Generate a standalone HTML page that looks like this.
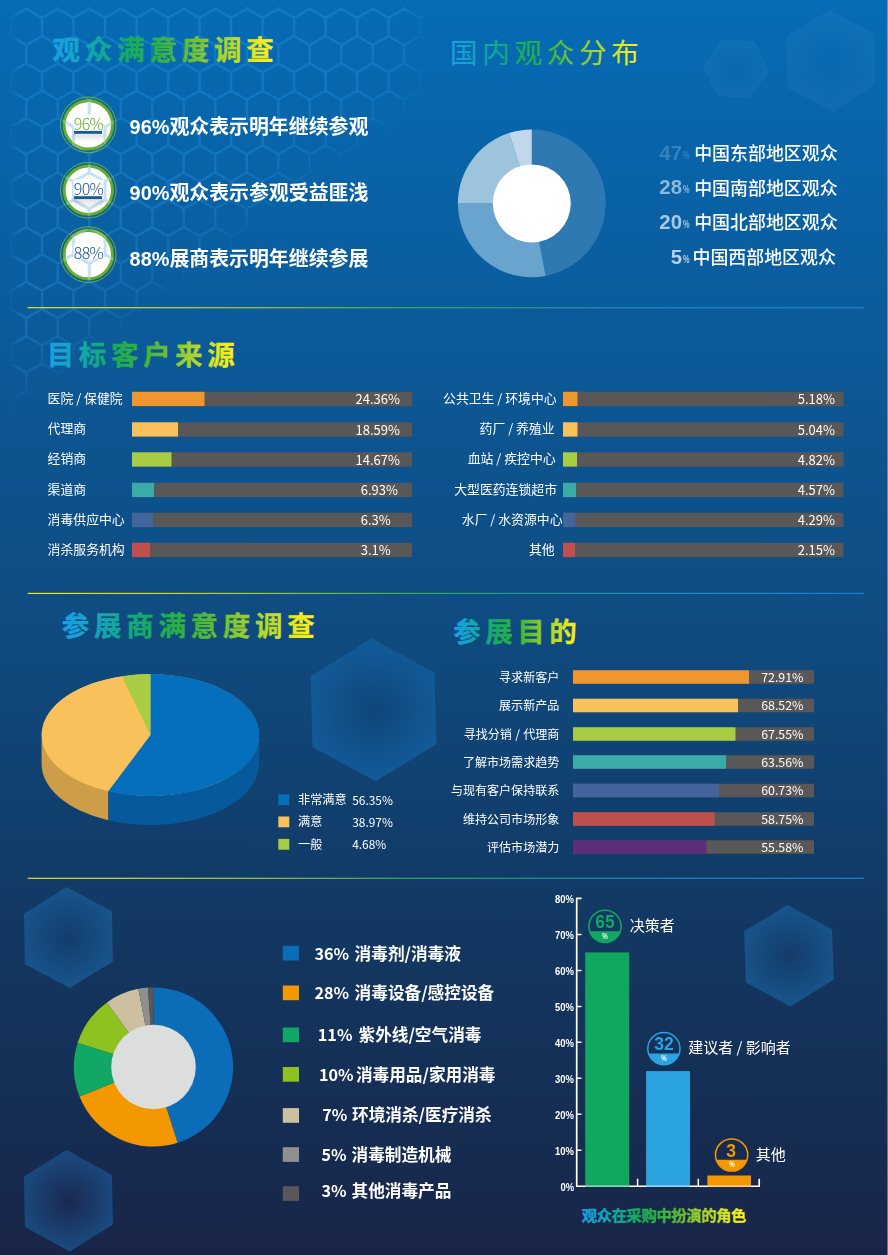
<!DOCTYPE html>
<html lang="zh-CN"><head><meta charset="utf-8"><title>展会数据统计</title><style>
html,body{margin:0;padding:0}
body{width:888px;height:1255px;position:relative;overflow:hidden;
 background:linear-gradient(180deg,#056cb6 0%,#0b5c9c 24%,#0f4b80 50%,#123862 74%,#192548 100%);
 font-family:"Liberation Sans","Noto Sans CJK SC",sans-serif;color:#fff}
.a{position:absolute;white-space:nowrap;margin:0;padding:0}
#tx{position:absolute;left:0;top:0;width:888px;height:1255px;will-change:transform}
svg{position:absolute;left:0;top:0}
.cj{font-family:"Noto Sans CJK SC","Liberation Sans",sans-serif}
</style></head><body>
<svg width="888" height="1255" viewBox="0 0 888 1255">
<defs>
<linearGradient id="dv" x1="0" x2="1" y1="0" y2="0"><stop offset="0" stop-color="#f0e81a"/><stop offset="0.12" stop-color="#e0e022"/><stop offset="0.27" stop-color="#a8cc34"/><stop offset="0.45" stop-color="#3cb050"/><stop offset="0.60" stop-color="#1a9e8c"/><stop offset="0.78" stop-color="#1490cc"/><stop offset="1" stop-color="#1488d8"/></linearGradient>
<linearGradient id="hm" gradientUnits="userSpaceOnUse" x1="0" y1="0" x2="206" y2="272"><stop offset="0" stop-color="#fff" stop-opacity="1"/><stop offset="0.8" stop-color="#fff" stop-opacity="1"/><stop offset="0.93" stop-color="#fff" stop-opacity="0.6"/><stop offset="1.05" stop-color="#fff" stop-opacity="0"/></linearGradient>
<linearGradient id="hl" gradientUnits="userSpaceOnUse" x1="8" y1="0" x2="20" y2="0"><stop offset="0" stop-color="#000" stop-opacity="1"/><stop offset="1" stop-color="#000" stop-opacity="0"/></linearGradient>
<linearGradient id="hr" gradientUnits="userSpaceOnUse" x1="400" y1="0" x2="432" y2="0"><stop offset="0" stop-color="#000" stop-opacity="0"/><stop offset="1" stop-color="#000" stop-opacity="1"/></linearGradient>
<mask id="hmask" maskUnits="userSpaceOnUse" x="0" y="0" width="620" height="560"><rect x="0" y="0" width="620" height="560" fill="url(#hm)"/><rect x="0" y="0" width="22" height="560" fill="url(#hl)"/><rect x="400" y="0" width="220" height="560" fill="url(#hr)"/><rect x="0" y="0" width="620" height="7" fill="#000"/></mask>
</defs>
<defs><linearGradient id="hg" x1="0" x2="1" y1="0" y2="0"><stop offset="0" stop-color="#1a9fe8"/><stop offset="0.10" stop-color="#15a3cc"/><stop offset="0.22" stop-color="#12a898"/><stop offset="0.33" stop-color="#15ab62"/><stop offset="0.45" stop-color="#2bb044"/><stop offset="0.57" stop-color="#55ba36"/><stop offset="0.70" stop-color="#94cc2e"/><stop offset="0.82" stop-color="#c4dc28"/><stop offset="0.92" stop-color="#eeea1e"/><stop offset="1" stop-color="#fff21a"/></linearGradient></defs>
<defs><path id="hc" d="M-5.2 -9.5L10.5 -18.6L26.3 -9.5L26.3 8.7M26.3 -9.5L42.0 -18.6L57.8 -9.5L57.8 8.7M57.8 -9.5L73.5 -18.6L89.3 -9.5L89.3 8.7M89.3 -9.5L105.0 -18.6L120.8 -9.5L120.8 8.7M120.8 -9.5L136.6 -18.6L152.3 -9.5L152.3 8.7M152.3 -9.5L168.1 -18.6L183.8 -9.5L183.8 8.7M183.8 -9.5L199.6 -18.6L215.3 -9.5L215.3 8.7M215.3 -9.5L231.1 -18.6L246.8 -9.5L246.8 8.7M246.8 -9.5L262.6 -18.6L278.3 -9.5L278.3 8.7M278.3 -9.5L294.1 -18.6L309.8 -9.5L309.8 8.7M309.8 -9.5L325.6 -18.6L341.3 -9.5L341.3 8.7M341.3 -9.5L357.1 -18.6L372.8 -9.5L372.8 8.7M372.8 -9.5L388.6 -18.6L404.3 -9.5L404.3 8.7M404.3 -9.5L420.1 -18.6L435.8 -9.5L435.8 8.7M435.8 -9.5L451.6 -18.6L467.3 -9.5L467.3 8.7M467.3 -9.5L483.1 -18.6L498.8 -9.5L498.8 8.7M498.8 -9.5L514.5 -18.6L530.3 -9.5L530.3 8.7M530.3 -9.5L546.0 -18.6L561.8 -9.5L561.8 8.7M561.8 -9.5L577.5 -18.6L593.3 -9.5L593.3 8.7M593.3 -9.5L609.0 -18.6L624.8 -9.5L624.8 8.7M624.8 -9.5L640.5 -18.6L656.3 -9.5L656.3 8.7M-20.9 17.8L-5.2 8.7L10.6 17.8L10.6 36.0M10.6 17.8L26.3 8.7L42.0 17.8L42.0 36.0M42.0 17.8L57.8 8.7L73.5 17.8L73.5 36.0M73.5 17.8L89.3 8.7L105.0 17.8L105.0 36.0M105.0 17.8L120.8 8.7L136.6 17.8L136.6 36.0M136.6 17.8L152.3 8.7L168.1 17.8L168.1 36.0M168.1 17.8L183.8 8.7L199.6 17.8L199.6 36.0M199.6 17.8L215.3 8.7L231.1 17.8L231.1 36.0M231.1 17.8L246.8 8.7L262.6 17.8L262.6 36.0M262.6 17.8L278.3 8.7L294.1 17.8L294.1 36.0M294.1 17.8L309.8 8.7L325.6 17.8L325.6 36.0M325.6 17.8L341.3 8.7L357.1 17.8L357.1 36.0M357.1 17.8L372.8 8.7L388.6 17.8L388.6 36.0M388.6 17.8L404.3 8.7L420.1 17.8L420.1 36.0M420.1 17.8L435.8 8.7L451.6 17.8L451.6 36.0M451.6 17.8L467.3 8.7L483.1 17.8L483.1 36.0M483.1 17.8L498.8 8.7L514.5 17.8L514.5 36.0M514.5 17.8L530.3 8.7L546.0 17.8L546.0 36.0M546.0 17.8L561.8 8.7L577.5 17.8L577.5 36.0M577.5 17.8L593.3 8.7L609.0 17.8L609.0 36.0M609.0 17.8L624.8 8.7L640.5 17.8L640.5 36.0M-5.2 45.1L10.5 36.0L26.3 45.1L26.3 63.3M26.3 45.1L42.0 36.0L57.8 45.1L57.8 63.3M57.8 45.1L73.5 36.0L89.3 45.1L89.3 63.3M89.3 45.1L105.0 36.0L120.8 45.1L120.8 63.3M120.8 45.1L136.6 36.0L152.3 45.1L152.3 63.3M152.3 45.1L168.1 36.0L183.8 45.1L183.8 63.3M183.8 45.1L199.6 36.0L215.3 45.1L215.3 63.3M215.3 45.1L231.1 36.0L246.8 45.1L246.8 63.3M246.8 45.1L262.6 36.0L278.3 45.1L278.3 63.3M278.3 45.1L294.1 36.0L309.8 45.1L309.8 63.3M309.8 45.1L325.6 36.0L341.3 45.1L341.3 63.3M341.3 45.1L357.1 36.0L372.8 45.1L372.8 63.3M372.8 45.1L388.6 36.0L404.3 45.1L404.3 63.3M404.3 45.1L420.1 36.0L435.8 45.1L435.8 63.3M435.8 45.1L451.6 36.0L467.3 45.1L467.3 63.3M467.3 45.1L483.1 36.0L498.8 45.1L498.8 63.3M498.8 45.1L514.5 36.0L530.3 45.1L530.3 63.3M530.3 45.1L546.0 36.0L561.8 45.1L561.8 63.3M561.8 45.1L577.5 36.0L593.3 45.1L593.3 63.3M593.3 45.1L609.0 36.0L624.8 45.1L624.8 63.3M624.8 45.1L640.5 36.0L656.3 45.1L656.3 63.3M-20.9 72.4L-5.2 63.3L10.6 72.4L10.6 90.6M10.6 72.4L26.3 63.3L42.0 72.4L42.0 90.6M42.0 72.4L57.8 63.3L73.5 72.4L73.5 90.6M73.5 72.4L89.3 63.3L105.0 72.4L105.0 90.6M105.0 72.4L120.8 63.3L136.6 72.4L136.6 90.6M136.6 72.4L152.3 63.3L168.1 72.4L168.1 90.6M168.1 72.4L183.8 63.3L199.6 72.4L199.6 90.6M199.6 72.4L215.3 63.3L231.1 72.4L231.1 90.6M231.1 72.4L246.8 63.3L262.6 72.4L262.6 90.6M262.6 72.4L278.3 63.3L294.1 72.4L294.1 90.6M294.1 72.4L309.8 63.3L325.6 72.4L325.6 90.6M325.6 72.4L341.3 63.3L357.1 72.4L357.1 90.6M357.1 72.4L372.8 63.3L388.6 72.4L388.6 90.6M388.6 72.4L404.3 63.3L420.1 72.4L420.1 90.6M420.1 72.4L435.8 63.3L451.6 72.4L451.6 90.6M451.6 72.4L467.3 63.3L483.1 72.4L483.1 90.6M483.1 72.4L498.8 63.3L514.5 72.4L514.5 90.6M514.5 72.4L530.3 63.3L546.0 72.4L546.0 90.6M546.0 72.4L561.8 63.3L577.5 72.4L577.5 90.6M577.5 72.4L593.3 63.3L609.0 72.4L609.0 90.6M609.0 72.4L624.8 63.3L640.5 72.4L640.5 90.6M-5.2 99.7L10.5 90.6L26.3 99.7L26.3 117.9M26.3 99.7L42.0 90.6L57.8 99.7L57.8 117.9M57.8 99.7L73.5 90.6L89.3 99.7L89.3 117.9M89.3 99.7L105.0 90.6L120.8 99.7L120.8 117.9M120.8 99.7L136.6 90.6L152.3 99.7L152.3 117.9M152.3 99.7L168.1 90.6L183.8 99.7L183.8 117.9M183.8 99.7L199.6 90.6L215.3 99.7L215.3 117.9M215.3 99.7L231.1 90.6L246.8 99.7L246.8 117.9M246.8 99.7L262.6 90.6L278.3 99.7L278.3 117.9M278.3 99.7L294.1 90.6L309.8 99.7L309.8 117.9M309.8 99.7L325.6 90.6L341.3 99.7L341.3 117.9M341.3 99.7L357.1 90.6L372.8 99.7L372.8 117.9M372.8 99.7L388.6 90.6L404.3 99.7L404.3 117.9M404.3 99.7L420.1 90.6L435.8 99.7L435.8 117.9M435.8 99.7L451.6 90.6L467.3 99.7L467.3 117.9M467.3 99.7L483.1 90.6L498.8 99.7L498.8 117.9M498.8 99.7L514.5 90.6L530.3 99.7L530.3 117.9M530.3 99.7L546.0 90.6L561.8 99.7L561.8 117.9M561.8 99.7L577.5 90.6L593.3 99.7L593.3 117.9M593.3 99.7L609.0 90.6L624.8 99.7L624.8 117.9M624.8 99.7L640.5 90.6L656.3 99.7L656.3 117.9M-20.9 127.0L-5.2 117.9L10.6 127.0L10.6 145.2M10.6 127.0L26.3 117.9L42.0 127.0L42.0 145.2M42.0 127.0L57.8 117.9L73.5 127.0L73.5 145.2M73.5 127.0L89.3 117.9L105.0 127.0L105.0 145.2M105.0 127.0L120.8 117.9L136.6 127.0L136.6 145.2M136.6 127.0L152.3 117.9L168.1 127.0L168.1 145.2M168.1 127.0L183.8 117.9L199.6 127.0L199.6 145.2M199.6 127.0L215.3 117.9L231.1 127.0L231.1 145.2M231.1 127.0L246.8 117.9L262.6 127.0L262.6 145.2M262.6 127.0L278.3 117.9L294.1 127.0L294.1 145.2M294.1 127.0L309.8 117.9L325.6 127.0L325.6 145.2M325.6 127.0L341.3 117.9L357.1 127.0L357.1 145.2M357.1 127.0L372.8 117.9L388.6 127.0L388.6 145.2M388.6 127.0L404.3 117.9L420.1 127.0L420.1 145.2M420.1 127.0L435.8 117.9L451.6 127.0L451.6 145.2M451.6 127.0L467.3 117.9L483.1 127.0L483.1 145.2M483.1 127.0L498.8 117.9L514.5 127.0L514.5 145.2M514.5 127.0L530.3 117.9L546.0 127.0L546.0 145.2M546.0 127.0L561.8 117.9L577.5 127.0L577.5 145.2M577.5 127.0L593.3 117.9L609.0 127.0L609.0 145.2M609.0 127.0L624.8 117.9L640.5 127.0L640.5 145.2M-5.2 154.3L10.5 145.2L26.3 154.3L26.3 172.5M26.3 154.3L42.0 145.2L57.8 154.3L57.8 172.5M57.8 154.3L73.5 145.2L89.3 154.3L89.3 172.5M89.3 154.3L105.0 145.2L120.8 154.3L120.8 172.5M120.8 154.3L136.6 145.2L152.3 154.3L152.3 172.5M152.3 154.3L168.1 145.2L183.8 154.3L183.8 172.5M183.8 154.3L199.6 145.2L215.3 154.3L215.3 172.5M215.3 154.3L231.1 145.2L246.8 154.3L246.8 172.5M246.8 154.3L262.6 145.2L278.3 154.3L278.3 172.5M278.3 154.3L294.1 145.2L309.8 154.3L309.8 172.5M309.8 154.3L325.6 145.2L341.3 154.3L341.3 172.5M341.3 154.3L357.1 145.2L372.8 154.3L372.8 172.5M372.8 154.3L388.6 145.2L404.3 154.3L404.3 172.5M404.3 154.3L420.1 145.2L435.8 154.3L435.8 172.5M435.8 154.3L451.6 145.2L467.3 154.3L467.3 172.5M467.3 154.3L483.1 145.2L498.8 154.3L498.8 172.5M498.8 154.3L514.5 145.2L530.3 154.3L530.3 172.5M530.3 154.3L546.0 145.2L561.8 154.3L561.8 172.5M561.8 154.3L577.5 145.2L593.3 154.3L593.3 172.5M593.3 154.3L609.0 145.2L624.8 154.3L624.8 172.5M624.8 154.3L640.5 145.2L656.3 154.3L656.3 172.5M-20.9 181.6L-5.2 172.5L10.6 181.6L10.6 199.8M10.6 181.6L26.3 172.5L42.0 181.6L42.0 199.8M42.0 181.6L57.8 172.5L73.5 181.6L73.5 199.8M73.5 181.6L89.3 172.5L105.0 181.6L105.0 199.8M105.0 181.6L120.8 172.5L136.6 181.6L136.6 199.8M136.6 181.6L152.3 172.5L168.1 181.6L168.1 199.8M168.1 181.6L183.8 172.5L199.6 181.6L199.6 199.8M199.6 181.6L215.3 172.5L231.1 181.6L231.1 199.8M231.1 181.6L246.8 172.5L262.6 181.6L262.6 199.8M262.6 181.6L278.3 172.5L294.1 181.6L294.1 199.8M294.1 181.6L309.8 172.5L325.6 181.6L325.6 199.8M325.6 181.6L341.3 172.5L357.1 181.6L357.1 199.8M357.1 181.6L372.8 172.5L388.6 181.6L388.6 199.8M388.6 181.6L404.3 172.5L420.1 181.6L420.1 199.8M420.1 181.6L435.8 172.5L451.6 181.6L451.6 199.8M451.6 181.6L467.3 172.5L483.1 181.6L483.1 199.8M483.1 181.6L498.8 172.5L514.5 181.6L514.5 199.8M514.5 181.6L530.3 172.5L546.0 181.6L546.0 199.8M546.0 181.6L561.8 172.5L577.5 181.6L577.5 199.8M577.5 181.6L593.3 172.5L609.0 181.6L609.0 199.8M609.0 181.6L624.8 172.5L640.5 181.6L640.5 199.8M-5.2 208.9L10.5 199.8L26.3 208.9L26.3 227.1M26.3 208.9L42.0 199.8L57.8 208.9L57.8 227.1M57.8 208.9L73.5 199.8L89.3 208.9L89.3 227.1M89.3 208.9L105.0 199.8L120.8 208.9L120.8 227.1M120.8 208.9L136.6 199.8L152.3 208.9L152.3 227.1M152.3 208.9L168.1 199.8L183.8 208.9L183.8 227.1M183.8 208.9L199.6 199.8L215.3 208.9L215.3 227.1M215.3 208.9L231.1 199.8L246.8 208.9L246.8 227.1M246.8 208.9L262.6 199.8L278.3 208.9L278.3 227.1M278.3 208.9L294.1 199.8L309.8 208.9L309.8 227.1M309.8 208.9L325.6 199.8L341.3 208.9L341.3 227.1M341.3 208.9L357.1 199.8L372.8 208.9L372.8 227.1M372.8 208.9L388.6 199.8L404.3 208.9L404.3 227.1M404.3 208.9L420.1 199.8L435.8 208.9L435.8 227.1M435.8 208.9L451.6 199.8L467.3 208.9L467.3 227.1M467.3 208.9L483.1 199.8L498.8 208.9L498.8 227.1M498.8 208.9L514.5 199.8L530.3 208.9L530.3 227.1M530.3 208.9L546.0 199.8L561.8 208.9L561.8 227.1M561.8 208.9L577.5 199.8L593.3 208.9L593.3 227.1M593.3 208.9L609.0 199.8L624.8 208.9L624.8 227.1M624.8 208.9L640.5 199.8L656.3 208.9L656.3 227.1M-20.9 236.2L-5.2 227.1L10.6 236.2L10.6 254.4M10.6 236.2L26.3 227.1L42.0 236.2L42.0 254.4M42.0 236.2L57.8 227.1L73.5 236.2L73.5 254.4M73.5 236.2L89.3 227.1L105.0 236.2L105.0 254.4M105.0 236.2L120.8 227.1L136.6 236.2L136.6 254.4M136.6 236.2L152.3 227.1L168.1 236.2L168.1 254.4M168.1 236.2L183.8 227.1L199.6 236.2L199.6 254.4M199.6 236.2L215.3 227.1L231.1 236.2L231.1 254.4M231.1 236.2L246.8 227.1L262.6 236.2L262.6 254.4M262.6 236.2L278.3 227.1L294.1 236.2L294.1 254.4M294.1 236.2L309.8 227.1L325.6 236.2L325.6 254.4M325.6 236.2L341.3 227.1L357.1 236.2L357.1 254.4M357.1 236.2L372.8 227.1L388.6 236.2L388.6 254.4M388.6 236.2L404.3 227.1L420.1 236.2L420.1 254.4M420.1 236.2L435.8 227.1L451.6 236.2L451.6 254.4M451.6 236.2L467.3 227.1L483.1 236.2L483.1 254.4M483.1 236.2L498.8 227.1L514.5 236.2L514.5 254.4M514.5 236.2L530.3 227.1L546.0 236.2L546.0 254.4M546.0 236.2L561.8 227.1L577.5 236.2L577.5 254.4M577.5 236.2L593.3 227.1L609.0 236.2L609.0 254.4M609.0 236.2L624.8 227.1L640.5 236.2L640.5 254.4M-5.2 263.5L10.5 254.4L26.3 263.5L26.3 281.7M26.3 263.5L42.0 254.4L57.8 263.5L57.8 281.7M57.8 263.5L73.5 254.4L89.3 263.5L89.3 281.7M89.3 263.5L105.0 254.4L120.8 263.5L120.8 281.7M120.8 263.5L136.6 254.4L152.3 263.5L152.3 281.7M152.3 263.5L168.1 254.4L183.8 263.5L183.8 281.7M183.8 263.5L199.6 254.4L215.3 263.5L215.3 281.7M215.3 263.5L231.1 254.4L246.8 263.5L246.8 281.7M246.8 263.5L262.6 254.4L278.3 263.5L278.3 281.7M278.3 263.5L294.1 254.4L309.8 263.5L309.8 281.7M309.8 263.5L325.6 254.4L341.3 263.5L341.3 281.7M341.3 263.5L357.1 254.4L372.8 263.5L372.8 281.7M372.8 263.5L388.6 254.4L404.3 263.5L404.3 281.7M404.3 263.5L420.1 254.4L435.8 263.5L435.8 281.7M435.8 263.5L451.6 254.4L467.3 263.5L467.3 281.7M467.3 263.5L483.1 254.4L498.8 263.5L498.8 281.7M498.8 263.5L514.5 254.4L530.3 263.5L530.3 281.7M530.3 263.5L546.0 254.4L561.8 263.5L561.8 281.7M561.8 263.5L577.5 254.4L593.3 263.5L593.3 281.7M593.3 263.5L609.0 254.4L624.8 263.5L624.8 281.7M624.8 263.5L640.5 254.4L656.3 263.5L656.3 281.7M-20.9 290.8L-5.2 281.7L10.6 290.8L10.6 309.0M10.6 290.8L26.3 281.7L42.0 290.8L42.0 309.0M42.0 290.8L57.8 281.7L73.5 290.8L73.5 309.0M73.5 290.8L89.3 281.7L105.0 290.8L105.0 309.0M105.0 290.8L120.8 281.7L136.6 290.8L136.6 309.0M136.6 290.8L152.3 281.7L168.1 290.8L168.1 309.0M168.1 290.8L183.8 281.7L199.6 290.8L199.6 309.0M199.6 290.8L215.3 281.7L231.1 290.8L231.1 309.0M231.1 290.8L246.8 281.7L262.6 290.8L262.6 309.0M262.6 290.8L278.3 281.7L294.1 290.8L294.1 309.0M294.1 290.8L309.8 281.7L325.6 290.8L325.6 309.0M325.6 290.8L341.3 281.7L357.1 290.8L357.1 309.0M357.1 290.8L372.8 281.7L388.6 290.8L388.6 309.0M388.6 290.8L404.3 281.7L420.1 290.8L420.1 309.0M420.1 290.8L435.8 281.7L451.6 290.8L451.6 309.0M451.6 290.8L467.3 281.7L483.1 290.8L483.1 309.0M483.1 290.8L498.8 281.7L514.5 290.8L514.5 309.0M514.5 290.8L530.3 281.7L546.0 290.8L546.0 309.0M546.0 290.8L561.8 281.7L577.5 290.8L577.5 309.0M577.5 290.8L593.3 281.7L609.0 290.8L609.0 309.0M609.0 290.8L624.8 281.7L640.5 290.8L640.5 309.0M-5.2 318.1L10.5 309.0L26.3 318.1L26.3 336.3M26.3 318.1L42.0 309.0L57.8 318.1L57.8 336.3M57.8 318.1L73.5 309.0L89.3 318.1L89.3 336.3M89.3 318.1L105.0 309.0L120.8 318.1L120.8 336.3M120.8 318.1L136.6 309.0L152.3 318.1L152.3 336.3M152.3 318.1L168.1 309.0L183.8 318.1L183.8 336.3M183.8 318.1L199.6 309.0L215.3 318.1L215.3 336.3M215.3 318.1L231.1 309.0L246.8 318.1L246.8 336.3M246.8 318.1L262.6 309.0L278.3 318.1L278.3 336.3M278.3 318.1L294.1 309.0L309.8 318.1L309.8 336.3M309.8 318.1L325.6 309.0L341.3 318.1L341.3 336.3M341.3 318.1L357.1 309.0L372.8 318.1L372.8 336.3M372.8 318.1L388.6 309.0L404.3 318.1L404.3 336.3M404.3 318.1L420.1 309.0L435.8 318.1L435.8 336.3M435.8 318.1L451.6 309.0L467.3 318.1L467.3 336.3M467.3 318.1L483.1 309.0L498.8 318.1L498.8 336.3M498.8 318.1L514.5 309.0L530.3 318.1L530.3 336.3M530.3 318.1L546.0 309.0L561.8 318.1L561.8 336.3M561.8 318.1L577.5 309.0L593.3 318.1L593.3 336.3M593.3 318.1L609.0 309.0L624.8 318.1L624.8 336.3M624.8 318.1L640.5 309.0L656.3 318.1L656.3 336.3M-20.9 345.4L-5.2 336.3L10.6 345.4L10.6 363.6M10.6 345.4L26.3 336.3L42.0 345.4L42.0 363.6M42.0 345.4L57.8 336.3L73.5 345.4L73.5 363.6M73.5 345.4L89.3 336.3L105.0 345.4L105.0 363.6M105.0 345.4L120.8 336.3L136.6 345.4L136.6 363.6M136.6 345.4L152.3 336.3L168.1 345.4L168.1 363.6M168.1 345.4L183.8 336.3L199.6 345.4L199.6 363.6M199.6 345.4L215.3 336.3L231.1 345.4L231.1 363.6M231.1 345.4L246.8 336.3L262.6 345.4L262.6 363.6M262.6 345.4L278.3 336.3L294.1 345.4L294.1 363.6M294.1 345.4L309.8 336.3L325.6 345.4L325.6 363.6M325.6 345.4L341.3 336.3L357.1 345.4L357.1 363.6M357.1 345.4L372.8 336.3L388.6 345.4L388.6 363.6M388.6 345.4L404.3 336.3L420.1 345.4L420.1 363.6M420.1 345.4L435.8 336.3L451.6 345.4L451.6 363.6M451.6 345.4L467.3 336.3L483.1 345.4L483.1 363.6M483.1 345.4L498.8 336.3L514.5 345.4L514.5 363.6M514.5 345.4L530.3 336.3L546.0 345.4L546.0 363.6M546.0 345.4L561.8 336.3L577.5 345.4L577.5 363.6M577.5 345.4L593.3 336.3L609.0 345.4L609.0 363.6M609.0 345.4L624.8 336.3L640.5 345.4L640.5 363.6M-5.2 372.7L10.5 363.6L26.3 372.7L26.3 390.9M26.3 372.7L42.0 363.6L57.8 372.7L57.8 390.9M57.8 372.7L73.5 363.6L89.3 372.7L89.3 390.9M89.3 372.7L105.0 363.6L120.8 372.7L120.8 390.9M120.8 372.7L136.6 363.6L152.3 372.7L152.3 390.9M152.3 372.7L168.1 363.6L183.8 372.7L183.8 390.9M183.8 372.7L199.6 363.6L215.3 372.7L215.3 390.9M215.3 372.7L231.1 363.6L246.8 372.7L246.8 390.9M246.8 372.7L262.6 363.6L278.3 372.7L278.3 390.9M278.3 372.7L294.1 363.6L309.8 372.7L309.8 390.9M309.8 372.7L325.6 363.6L341.3 372.7L341.3 390.9M341.3 372.7L357.1 363.6L372.8 372.7L372.8 390.9M372.8 372.7L388.6 363.6L404.3 372.7L404.3 390.9M404.3 372.7L420.1 363.6L435.8 372.7L435.8 390.9M435.8 372.7L451.6 363.6L467.3 372.7L467.3 390.9M467.3 372.7L483.1 363.6L498.8 372.7L498.8 390.9M498.8 372.7L514.5 363.6L530.3 372.7L530.3 390.9M530.3 372.7L546.0 363.6L561.8 372.7L561.8 390.9M561.8 372.7L577.5 363.6L593.3 372.7L593.3 390.9M593.3 372.7L609.0 363.6L624.8 372.7L624.8 390.9M624.8 372.7L640.5 363.6L656.3 372.7L656.3 390.9M-20.9 400.0L-5.2 390.9L10.6 400.0L10.6 418.2M10.6 400.0L26.3 390.9L42.0 400.0L42.0 418.2M42.0 400.0L57.8 390.9L73.5 400.0L73.5 418.2M73.5 400.0L89.3 390.9L105.0 400.0L105.0 418.2M105.0 400.0L120.8 390.9L136.6 400.0L136.6 418.2M136.6 400.0L152.3 390.9L168.1 400.0L168.1 418.2M168.1 400.0L183.8 390.9L199.6 400.0L199.6 418.2M199.6 400.0L215.3 390.9L231.1 400.0L231.1 418.2M231.1 400.0L246.8 390.9L262.6 400.0L262.6 418.2M262.6 400.0L278.3 390.9L294.1 400.0L294.1 418.2M294.1 400.0L309.8 390.9L325.6 400.0L325.6 418.2M325.6 400.0L341.3 390.9L357.1 400.0L357.1 418.2M357.1 400.0L372.8 390.9L388.6 400.0L388.6 418.2M388.6 400.0L404.3 390.9L420.1 400.0L420.1 418.2M420.1 400.0L435.8 390.9L451.6 400.0L451.6 418.2M451.6 400.0L467.3 390.9L483.1 400.0L483.1 418.2M483.1 400.0L498.8 390.9L514.5 400.0L514.5 418.2M514.5 400.0L530.3 390.9L546.0 400.0L546.0 418.2M546.0 400.0L561.8 390.9L577.5 400.0L577.5 418.2M577.5 400.0L593.3 390.9L609.0 400.0L609.0 418.2M609.0 400.0L624.8 390.9L640.5 400.0L640.5 418.2M-5.2 427.3L10.5 418.2L26.3 427.3L26.3 445.5M26.3 427.3L42.0 418.2L57.8 427.3L57.8 445.5M57.8 427.3L73.5 418.2L89.3 427.3L89.3 445.5M89.3 427.3L105.0 418.2L120.8 427.3L120.8 445.5M120.8 427.3L136.6 418.2L152.3 427.3L152.3 445.5M152.3 427.3L168.1 418.2L183.8 427.3L183.8 445.5M183.8 427.3L199.6 418.2L215.3 427.3L215.3 445.5M215.3 427.3L231.1 418.2L246.8 427.3L246.8 445.5M246.8 427.3L262.6 418.2L278.3 427.3L278.3 445.5M278.3 427.3L294.1 418.2L309.8 427.3L309.8 445.5M309.8 427.3L325.6 418.2L341.3 427.3L341.3 445.5M341.3 427.3L357.1 418.2L372.8 427.3L372.8 445.5M372.8 427.3L388.6 418.2L404.3 427.3L404.3 445.5M404.3 427.3L420.1 418.2L435.8 427.3L435.8 445.5M435.8 427.3L451.6 418.2L467.3 427.3L467.3 445.5M467.3 427.3L483.1 418.2L498.8 427.3L498.8 445.5M498.8 427.3L514.5 418.2L530.3 427.3L530.3 445.5M530.3 427.3L546.0 418.2L561.8 427.3L561.8 445.5M561.8 427.3L577.5 418.2L593.3 427.3L593.3 445.5M593.3 427.3L609.0 418.2L624.8 427.3L624.8 445.5M624.8 427.3L640.5 418.2L656.3 427.3L656.3 445.5M-20.9 454.6L-5.2 445.5L10.6 454.6L10.6 472.8M10.6 454.6L26.3 445.5L42.0 454.6L42.0 472.8M42.0 454.6L57.8 445.5L73.5 454.6L73.5 472.8M73.5 454.6L89.3 445.5L105.0 454.6L105.0 472.8M105.0 454.6L120.8 445.5L136.6 454.6L136.6 472.8M136.6 454.6L152.3 445.5L168.1 454.6L168.1 472.8M168.1 454.6L183.8 445.5L199.6 454.6L199.6 472.8M199.6 454.6L215.3 445.5L231.1 454.6L231.1 472.8M231.1 454.6L246.8 445.5L262.6 454.6L262.6 472.8M262.6 454.6L278.3 445.5L294.1 454.6L294.1 472.8M294.1 454.6L309.8 445.5L325.6 454.6L325.6 472.8M325.6 454.6L341.3 445.5L357.1 454.6L357.1 472.8M357.1 454.6L372.8 445.5L388.6 454.6L388.6 472.8M388.6 454.6L404.3 445.5L420.1 454.6L420.1 472.8M420.1 454.6L435.8 445.5L451.6 454.6L451.6 472.8M451.6 454.6L467.3 445.5L483.1 454.6L483.1 472.8M483.1 454.6L498.8 445.5L514.5 454.6L514.5 472.8M514.5 454.6L530.3 445.5L546.0 454.6L546.0 472.8M546.0 454.6L561.8 445.5L577.5 454.6L577.5 472.8M577.5 454.6L593.3 445.5L609.0 454.6L609.0 472.8M609.0 454.6L624.8 445.5L640.5 454.6L640.5 472.8"/></defs>
<g mask="url(#hmask)"><use href="#hc" fill="none" stroke="#2e9cf0" stroke-opacity="0.30" stroke-width="2.5"/></g>
<defs><radialGradient id="hA" gradientUnits="userSpaceOnUse" cx="735.9" cy="69.0" r="33.3"><stop offset="0" stop-color="rgba(255,255,255,0)"/><stop offset="1" stop-color="rgba(255,255,255,0.045)"/></radialGradient></defs>
<polygon points="702.7,66.4 721.3,39.6 754.7,41.6 769.1,71.4 749.8,98.6 717.6,96.1" fill="url(#hA)"/>
<defs><radialGradient id="hB" gradientUnits="userSpaceOnUse" cx="831.0" cy="60.7" r="51.2"><stop offset="0" stop-color="rgba(255,255,255,0)"/><stop offset="1" stop-color="rgba(255,255,255,0.045)"/></radialGradient></defs>
<polygon points="829.5,9.9 874.1,33.4 875.6,84.2 832.8,111.5 787.7,88.0 786.2,37.2" fill="url(#hB)"/>
<defs><radialGradient id="hM" gradientUnits="userSpaceOnUse" cx="373.4" cy="710.0" r="71.6"><stop offset="0" stop-color="#0f457a"/><stop offset="1" stop-color="#125c9a"/></radialGradient></defs>
<polygon points="371.1,638.4 434.5,672.6 436.3,744.3 375.6,781.3 312.5,747.0 310.7,676.2" fill="url(#hM)"/>
<defs><radialGradient id="hC" gradientUnits="userSpaceOnUse" cx="68.3" cy="937.6" r="51.0"><stop offset="0" stop-color="#143c6c"/><stop offset="1" stop-color="#17568e"/></radialGradient></defs>
<polygon points="66.5,886.9 111.9,911.3 112.9,961.4 69.8,987.9 24.9,964.3 24.0,913.8" fill="url(#hC)"/>
<defs><radialGradient id="hD" gradientUnits="userSpaceOnUse" cx="68.3" cy="1200.7" r="50.8"><stop offset="0" stop-color="#19294f"/><stop offset="1" stop-color="#1a4c82"/></radialGradient></defs>
<polygon points="66.5,1150.0 111.9,1174.9 112.9,1224.6 69.8,1251.4 24.9,1227.0 24.0,1176.5" fill="url(#hD)"/>
<defs><radialGradient id="hE" gradientUnits="userSpaceOnUse" cx="789.0" cy="955.6" r="51.0"><stop offset="0" stop-color="#143b69"/><stop offset="1" stop-color="#17568e"/></radialGradient></defs>
<polygon points="787.4,904.9 832.0,929.2 833.8,979.5 790.5,1006.5 745.9,982.6 744.2,931.2" fill="url(#hE)"/>
<rect x="27.7" y="307.13" width="836" height="1.15" fill="url(#dv)"/>
<rect x="27.7" y="592.83" width="836" height="1.15" fill="url(#dv)"/>
<rect x="27.7" y="877.73" width="836" height="1.15" fill="url(#dv)"/>
<rect x="887" y="0" width="1" height="1255" fill="#fff" fill-opacity="0.35"/>
<defs><linearGradient id="bsh" x1="0" x2="0" y1="0" y2="1"><stop offset="0" stop-color="#5a4a40" stop-opacity="0.2"/><stop offset="1" stop-color="#5a4a40" stop-opacity="0"/></linearGradient><filter id="bl" x="-20%" y="-40%" width="140%" height="180%"><feGaussianBlur stdDeviation="1.1"/></filter></defs>
<circle cx="88.3" cy="124.9" r="27.8" fill="none" stroke="#7ab82a" stroke-width="0.9"/>
<circle cx="88.3" cy="124.9" r="24.15" fill="#fff" stroke="#66ad28" stroke-width="2.9"/>
<clipPath id="bc0"><circle cx="88.3" cy="124.9" r="22.7"/></clipPath>
<clipPath id="bd0"><circle cx="88.3" cy="124.9" r="25.6"/></clipPath>
<g clip-path="url(#bd0)"><use href="#hc" fill="none" stroke="#fff" stroke-opacity="0.22" stroke-width="3"/></g>
<g clip-path="url(#bc0)"><use href="#hc" fill="none" stroke="#c4e2f5" stroke-width="3.1"/></g>
<rect x="73.5" y="114.4" width="30.5" height="14.5" fill="#fff" fill-opacity="0.8"/>
<rect x="73.1" y="133.5" width="30" height="8" fill="url(#bsh)" filter="url(#bl)"/>
<rect x="74.1" y="130.9" width="28" height="2.9" fill="#165a9a"/>
<circle cx="88.3" cy="190.2" r="27.8" fill="none" stroke="#7ab82a" stroke-width="0.9"/>
<circle cx="88.3" cy="190.2" r="24.15" fill="#fff" stroke="#66ad28" stroke-width="2.9"/>
<clipPath id="bc1"><circle cx="88.3" cy="190.2" r="22.7"/></clipPath>
<clipPath id="bd1"><circle cx="88.3" cy="190.2" r="25.6"/></clipPath>
<g clip-path="url(#bd1)"><use href="#hc" fill="none" stroke="#fff" stroke-opacity="0.22" stroke-width="3"/></g>
<g clip-path="url(#bc1)"><use href="#hc" fill="none" stroke="#c4e2f5" stroke-width="3.1"/></g>
<rect x="73.5" y="179.7" width="30.5" height="14.5" fill="#fff" fill-opacity="0.8"/>
<rect x="73.1" y="198.8" width="30" height="8" fill="url(#bsh)" filter="url(#bl)"/>
<rect x="74.1" y="196.2" width="28" height="2.9" fill="#165a9a"/>
<circle cx="88.3" cy="254.6" r="27.8" fill="none" stroke="#7ab82a" stroke-width="0.9"/>
<circle cx="88.3" cy="254.6" r="24.15" fill="#fff" stroke="#66ad28" stroke-width="2.9"/>
<clipPath id="bc2"><circle cx="88.3" cy="254.6" r="22.7"/></clipPath>
<clipPath id="bd2"><circle cx="88.3" cy="254.6" r="25.6"/></clipPath>
<g clip-path="url(#bd2)"><use href="#hc" fill="none" stroke="#fff" stroke-opacity="0.22" stroke-width="3"/></g>
<g clip-path="url(#bc2)"><use href="#hc" fill="none" stroke="#c4e2f5" stroke-width="3.1"/></g>
<rect x="73.5" y="244.1" width="30.5" height="14.5" fill="#fff" fill-opacity="0.8"/>
<path d="M531.80 129.50A73.90 73.90 0 0 1 545.65 275.99L538.83 240.24A37.50 37.50 0 0 0 531.80 165.90Z" fill="#2f79b2"/>
<path d="M545.65 275.99A73.90 73.90 0 0 1 457.90 203.40L494.30 203.40A37.50 37.50 0 0 0 538.83 240.24Z" fill="#68a4ce"/>
<path d="M457.90 203.40A73.90 73.90 0 0 1 508.96 133.12L520.21 167.74A37.50 37.50 0 0 0 494.30 203.40Z" fill="#9cc4dc"/>
<path d="M508.96 133.12A73.90 73.90 0 0 1 531.80 129.50L531.80 165.90A37.50 37.50 0 0 0 520.21 167.74Z" fill="#c2d6ee"/>
<circle cx="531.8" cy="203.4" r="39.0" fill="#fff"/>
<rect x="132" y="391.8" width="280" height="14.3" fill="#595757"/>
<rect x="132" y="391.8" width="72.5" height="14.3" fill="#f0962e"/>
<rect x="132" y="422.3" width="280" height="14.3" fill="#595757"/>
<rect x="132" y="422.3" width="46.0" height="14.3" fill="#f8c15c"/>
<rect x="132" y="452.3" width="280" height="14.3" fill="#595757"/>
<rect x="132" y="452.3" width="39.5" height="14.3" fill="#a8cd45"/>
<rect x="132" y="482.8" width="280" height="14.3" fill="#595757"/>
<rect x="132" y="482.8" width="22.0" height="14.3" fill="#3aaca8"/>
<rect x="132" y="512.8" width="280" height="14.3" fill="#595757"/>
<rect x="132" y="512.8" width="21.0" height="14.3" fill="#44649c"/>
<rect x="132" y="542.8" width="280" height="14.3" fill="#595757"/>
<rect x="132" y="542.8" width="18.0" height="14.3" fill="#c0504d"/>
<rect x="563" y="391.8" width="280.5" height="14.3" fill="#595757"/>
<rect x="563" y="391.8" width="14.5" height="14.3" fill="#f0962e"/>
<rect x="563" y="422.3" width="280.5" height="14.3" fill="#595757"/>
<rect x="563" y="422.3" width="14.5" height="14.3" fill="#f8c15c"/>
<rect x="563" y="452.3" width="280.5" height="14.3" fill="#595757"/>
<rect x="563" y="452.3" width="14.0" height="14.3" fill="#a8cd45"/>
<rect x="563" y="482.8" width="280.5" height="14.3" fill="#595757"/>
<rect x="563" y="482.8" width="13.0" height="14.3" fill="#3aaca8"/>
<rect x="563" y="512.8" width="280.5" height="14.3" fill="#595757"/>
<rect x="563" y="512.8" width="12.5" height="14.3" fill="#44649c"/>
<rect x="563" y="542.8" width="280.5" height="14.3" fill="#595757"/>
<rect x="563" y="542.8" width="12.0" height="14.3" fill="#c0504d"/>
<path d="M259.20 733.50A108.80 61.00 0 0 1 108.13 789.71L108.13 820.21A108.80 61.00 0 0 0 259.20 764.00Z" fill="#065a9c"/>
<path d="M108.13 789.71A108.80 61.00 0 0 1 41.60 733.50L41.60 764.00A108.80 61.00 0 0 0 108.13 820.21Z" fill="#cd9d48"/>
<ellipse cx="150.4" cy="735.0" rx="108.5" ry="60.7" fill="#f8c15c"/>
<path d="M150.40 735.00L150.40 674.00A108.80 61.00 0 1 1 108.13 791.21Z" fill="#0470bd"/>
<path d="M150.40 735.00L108.13 791.21A108.80 61.00 0 0 1 121.87 676.13Z" fill="#f8c15c"/>
<path d="M150.40 735.00L121.87 676.13A108.80 61.00 0 0 1 150.40 674.00Z" fill="#a8cd45"/>
<rect x="278.3" y="794.3" width="11" height="10.8" fill="#0470bd"/>
<rect x="278.3" y="816.5" width="11" height="10.8" fill="#f8c15c"/>
<rect x="278.3" y="838.9" width="11" height="10.8" fill="#a8cd45"/>
<rect x="573" y="670.25" width="241" height="13.5" fill="#595757"/>
<rect x="573" y="670.25" width="176.0" height="13.5" fill="#f0962e"/>
<rect x="573" y="698.75" width="241" height="13.5" fill="#595757"/>
<rect x="573" y="698.75" width="165.0" height="13.5" fill="#f8c15c"/>
<rect x="573" y="727.25" width="241" height="13.5" fill="#595757"/>
<rect x="573" y="727.25" width="162.5" height="13.5" fill="#a8cd45"/>
<rect x="573" y="755.25" width="241" height="13.5" fill="#595757"/>
<rect x="573" y="755.25" width="153.0" height="13.5" fill="#3aaca8"/>
<rect x="573" y="783.75" width="241" height="13.5" fill="#595757"/>
<rect x="573" y="783.75" width="146.0" height="13.5" fill="#44649c"/>
<rect x="573" y="812.25" width="241" height="13.5" fill="#595757"/>
<rect x="573" y="812.25" width="141.5" height="13.5" fill="#c0504d"/>
<rect x="573" y="840.25" width="241" height="13.5" fill="#595757"/>
<rect x="573" y="840.25" width="133.5" height="13.5" fill="#5c2d79"/>
<path d="M153.50 987.40A79.60 79.60 0 0 1 177.57 1142.87L165.84 1105.89A40.80 40.80 0 0 0 153.50 1026.20Z" fill="#0b6cb8"/>
<path d="M177.57 1142.87A79.60 79.60 0 0 1 79.54 1096.43L115.59 1082.09A40.80 40.80 0 0 0 165.84 1105.89Z" fill="#f39800"/>
<path d="M79.54 1096.43A79.60 79.60 0 0 1 77.71 1042.67L114.65 1054.53A40.80 40.80 0 0 0 115.59 1082.09Z" fill="#10a864"/>
<path d="M77.71 1042.67A79.60 79.60 0 0 1 106.94 1002.44L129.63 1033.91A40.80 40.80 0 0 0 114.65 1054.53Z" fill="#8dc21f"/>
<path d="M106.94 1002.44A79.60 79.60 0 0 1 138.31 988.86L145.71 1026.95A40.80 40.80 0 0 0 129.63 1033.91Z" fill="#ccc0a0"/>
<path d="M138.31 988.86A79.60 79.60 0 0 1 147.95 987.59L150.65 1026.30A40.80 40.80 0 0 0 145.71 1026.95Z" fill="#8f8f90"/>
<path d="M147.95 987.59A79.60 79.60 0 0 1 153.50 987.40L153.50 1026.20A40.80 40.80 0 0 0 150.65 1026.30Z" fill="#595758"/>
<circle cx="153.5" cy="1067.0" r="42.3" fill="#dcdddd"/>
<rect x="282.8" y="945.8" width="16.2" height="14.7" fill="#0b6cb8"/>
<rect x="282.8" y="985.5" width="16.2" height="14.7" fill="#f39800"/>
<rect x="282.8" y="1027.5" width="16.2" height="14.7" fill="#10a864"/>
<rect x="282.8" y="1067.0" width="16.2" height="14.7" fill="#8dc21f"/>
<rect x="282.8" y="1108.1" width="16.2" height="14.7" fill="#ccc0a0"/>
<rect x="282.8" y="1147.2" width="16.2" height="14.7" fill="#8f8f90"/>
<rect x="282.8" y="1186.2" width="16.2" height="14.7" fill="#595758"/>
<rect x="585.2" y="952.4" width="44.0" height="233.8" fill="#10a860"/>
<path d="M620.37 931.20A16.1 16.1 0 0 1 589.63 931.20Z" fill="#10a860"/>
<circle cx="605.0" cy="926.4" r="16.1" fill="none" stroke="#10a860" stroke-width="1.5"/>
<rect x="646.1" y="1071.1" width="43.9" height="115.1" fill="#2aa3e0"/>
<path d="M679.27 1053.40A16.1 16.1 0 0 1 648.53 1053.40Z" fill="#2aa3e0"/>
<circle cx="663.9" cy="1048.6" r="16.1" fill="none" stroke="#2aa3e0" stroke-width="1.5"/>
<rect x="707.4" y="1175.5" width="43.6" height="10.8" fill="#f39800"/>
<path d="M746.97 1159.80A16.1 16.1 0 0 1 716.23 1159.80Z" fill="#f39800"/>
<circle cx="731.6" cy="1155.0" r="16.1" fill="none" stroke="#f39800" stroke-width="1.5"/>
<path d="M581.5 898.3H576.7V1186.25H759.2V1178.8" fill="none" stroke="#fff" stroke-width="1.7" stroke-linejoin="round"/>
<path d="M576.7 1150.28h4.8M576.7 1114.31h4.8M576.7 1078.34h4.8M576.7 1042.37h4.8M576.7 1006.40h4.8M576.7 970.43h4.8M576.7 934.46h4.8M637.6 1186.2v-7.4M698.3 1186.2v-7.4" fill="none" stroke="#fff" stroke-width="1.5"/>
<rect x="585.2" y="1185.40" width="44.0" height="1.7" fill="#10a860" fill-opacity="0.5"/>
<rect x="646.1" y="1185.40" width="43.9" height="1.7" fill="#2aa3e0" fill-opacity="0.5"/>
<rect x="707.4" y="1185.40" width="43.6" height="1.7" fill="#f39800" fill-opacity="0.5"/>
<text x="52.5" y="60.3" font-family="'Noto Sans CJK SC','Liberation Sans',sans-serif" font-size="27.50" font-weight="700" letter-spacing="4.80" fill="url(#hg)" stroke="url(#hg)" stroke-width="0.30" stroke-linejoin="round">观众满意度调查</text>
<text x="450.0" y="63.0" font-family="'Noto Sans CJK SC','Liberation Sans',sans-serif" font-size="27.50" font-weight="400" letter-spacing="4.75" fill="url(#hg)" stroke="url(#hg)" stroke-width="0.10" stroke-linejoin="round">国内观众分布</text>
<text x="46.7" y="364.8" font-family="'Noto Sans CJK SC','Liberation Sans',sans-serif" font-size="27.50" font-weight="700" letter-spacing="4.60" fill="url(#hg)" stroke="url(#hg)" stroke-width="0.30" stroke-linejoin="round">目标客户来源</text>
<text x="61.8" y="635.8" font-family="'Noto Sans CJK SC','Liberation Sans',sans-serif" font-size="27.50" font-weight="700" letter-spacing="4.70" fill="url(#hg)" stroke="url(#hg)" stroke-width="0.30" stroke-linejoin="round">参展商满意度调查</text>
<text x="453.2" y="642.3" font-family="'Noto Sans CJK SC','Liberation Sans',sans-serif" font-size="27.50" font-weight="700" letter-spacing="4.50" fill="url(#hg)" stroke="url(#hg)" stroke-width="0.30" stroke-linejoin="round">参展目的</text>
<text x="581.8" y="1220.6" font-family="'Noto Sans CJK SC','Liberation Sans',sans-serif" font-size="15.30" font-weight="700" letter-spacing="-0.38" fill="url(#hg)" stroke="url(#hg)" stroke-width="0.35" stroke-linejoin="round">观众在采购中扮演的角色</text>
</svg>
<div id="tx">
<div class="a cj" style="top:113.5px;font-size:16.00px;line-height:18.0px;height:18.0px;color:#6aae2a;font-weight:300;letter-spacing:-0.70px;left:63.5px;width:50.0px;text-align:center;">96%</div>
<div class="a cj" style="top:178.8px;font-size:16.00px;line-height:18.0px;height:18.0px;color:#1a5490;font-weight:300;letter-spacing:-0.70px;left:63.5px;width:50.0px;text-align:center;">90%</div>
<div class="a cj" style="top:243.2px;font-size:16.00px;line-height:18.0px;height:18.0px;color:#1a5490;font-weight:300;letter-spacing:-0.70px;left:63.5px;width:50.0px;text-align:center;">88%</div>
<div class="a " style="top:113.5px;font-size:19.90px;line-height:26.0px;height:26.0px;color:#fff;font-weight:700;left:129.6px;">96%观众表示明年继续参观</div>
<div class="a " style="top:180.0px;font-size:19.90px;line-height:26.0px;height:26.0px;color:#fff;font-weight:700;left:129.6px;">90%观众表示参观受益匪浅</div>
<div class="a " style="top:246.0px;font-size:19.90px;line-height:26.0px;height:26.0px;color:#fff;font-weight:700;left:129.6px;">88%展商表示明年继续参展</div>
<div class="a " style="top:141.0px;font-size:20.40px;line-height:24.0px;height:24.0px;color:#3a80ba;font-weight:700;right:206.0px;text-align:right;">47</div>
<div class="a " style="top:149.9px;font-size:10.20px;line-height:12.0px;height:12.0px;color:#3a80ba;font-weight:700;left:682.6px;transform:scaleX(0.72);transform-origin:0 50%;">%</div>
<div class="a cj" style="top:140.4px;font-size:17.93px;line-height:24.0px;height:24.0px;color:#fff;font-weight:500;left:694.2px;">中国东部地区观众</div>
<div class="a " style="top:175.3px;font-size:20.40px;line-height:24.0px;height:24.0px;color:#8cb8da;font-weight:700;right:206.0px;text-align:right;">28</div>
<div class="a " style="top:184.2px;font-size:10.20px;line-height:12.0px;height:12.0px;color:#8cb8da;font-weight:700;left:682.6px;transform:scaleX(0.72);transform-origin:0 50%;">%</div>
<div class="a cj" style="top:174.7px;font-size:17.93px;line-height:24.0px;height:24.0px;color:#fff;font-weight:500;left:694.2px;">中国南部地区观众</div>
<div class="a " style="top:209.7px;font-size:20.40px;line-height:24.0px;height:24.0px;color:#a6c8e2;font-weight:700;right:206.0px;text-align:right;">20</div>
<div class="a " style="top:218.6px;font-size:10.20px;line-height:12.0px;height:12.0px;color:#a6c8e2;font-weight:700;left:682.6px;transform:scaleX(0.72);transform-origin:0 50%;">%</div>
<div class="a cj" style="top:209.1px;font-size:17.93px;line-height:24.0px;height:24.0px;color:#fff;font-weight:500;left:694.2px;">中国北部地区观众</div>
<div class="a " style="top:244.6px;font-size:20.40px;line-height:24.0px;height:24.0px;color:#bacee6;font-weight:700;right:206.0px;text-align:right;">5</div>
<div class="a " style="top:253.5px;font-size:10.20px;line-height:12.0px;height:12.0px;color:#bacee6;font-weight:700;left:682.6px;transform:scaleX(0.72);transform-origin:0 50%;">%</div>
<div class="a cj" style="top:244.0px;font-size:17.93px;line-height:24.0px;height:24.0px;color:#fff;font-weight:500;left:692.5px;">中国西部地区观众</div>
<div class="a cj" style="top:388.6px;font-size:12.85px;line-height:18.0px;height:18.0px;color:#fff;font-weight:400;left:47.6px;">医院 / 保健院</div>
<div class="a cj" style="top:390.3px;font-size:13.00px;line-height:18.0px;height:18.0px;color:#fff;font-weight:400;left:355.5px;">24.36%</div>
<div class="a cj" style="top:419.1px;font-size:12.85px;line-height:18.0px;height:18.0px;color:#fff;font-weight:400;left:47.6px;">代理商</div>
<div class="a cj" style="top:420.8px;font-size:13.00px;line-height:18.0px;height:18.0px;color:#fff;font-weight:400;left:355.5px;">18.59%</div>
<div class="a cj" style="top:449.1px;font-size:12.85px;line-height:18.0px;height:18.0px;color:#fff;font-weight:400;left:47.6px;">经销商</div>
<div class="a cj" style="top:450.8px;font-size:13.00px;line-height:18.0px;height:18.0px;color:#fff;font-weight:400;left:355.5px;">14.67%</div>
<div class="a cj" style="top:479.6px;font-size:12.85px;line-height:18.0px;height:18.0px;color:#fff;font-weight:400;left:47.6px;">渠道商</div>
<div class="a cj" style="top:481.3px;font-size:13.00px;line-height:18.0px;height:18.0px;color:#fff;font-weight:400;left:360.7px;">6.93%</div>
<div class="a cj" style="top:509.6px;font-size:12.85px;line-height:18.0px;height:18.0px;color:#fff;font-weight:400;left:47.6px;">消毒供应中心</div>
<div class="a cj" style="top:511.3px;font-size:13.00px;line-height:18.0px;height:18.0px;color:#fff;font-weight:400;left:360.7px;">6.3%</div>
<div class="a cj" style="top:539.6px;font-size:12.85px;line-height:18.0px;height:18.0px;color:#fff;font-weight:400;left:47.6px;">消杀服务机构</div>
<div class="a cj" style="top:541.3px;font-size:13.00px;line-height:18.0px;height:18.0px;color:#fff;font-weight:400;left:360.7px;">3.1%</div>
<div class="a cj" style="top:388.6px;font-size:12.85px;line-height:18.0px;height:18.0px;color:#fff;font-weight:400;right:331.4px;text-align:right;">公共卫生 / 环境中心</div>
<div class="a cj" style="top:390.3px;font-size:13.00px;line-height:18.0px;height:18.0px;color:#fff;font-weight:400;right:53.0px;text-align:right;">5.18%</div>
<div class="a cj" style="top:419.1px;font-size:12.85px;line-height:18.0px;height:18.0px;color:#fff;font-weight:400;right:333.4px;text-align:right;">药厂 / 养殖业</div>
<div class="a cj" style="top:420.8px;font-size:13.00px;line-height:18.0px;height:18.0px;color:#fff;font-weight:400;right:53.0px;text-align:right;">5.04%</div>
<div class="a cj" style="top:449.1px;font-size:12.85px;line-height:18.0px;height:18.0px;color:#fff;font-weight:400;right:332.4px;text-align:right;">血站 / 疾控中心</div>
<div class="a cj" style="top:450.8px;font-size:13.00px;line-height:18.0px;height:18.0px;color:#fff;font-weight:400;right:53.0px;text-align:right;">4.82%</div>
<div class="a cj" style="top:479.6px;font-size:12.85px;line-height:18.0px;height:18.0px;color:#fff;font-weight:400;right:331.0px;text-align:right;">大型医药连锁超市</div>
<div class="a cj" style="top:481.3px;font-size:13.00px;line-height:18.0px;height:18.0px;color:#fff;font-weight:400;right:53.0px;text-align:right;">4.57%</div>
<div class="a cj" style="top:509.6px;font-size:12.85px;line-height:18.0px;height:18.0px;color:#fff;font-weight:400;right:325.5px;text-align:right;">水厂 / 水资源中心</div>
<div class="a cj" style="top:511.3px;font-size:13.00px;line-height:18.0px;height:18.0px;color:#fff;font-weight:400;right:53.0px;text-align:right;">4.29%</div>
<div class="a cj" style="top:539.6px;font-size:12.85px;line-height:18.0px;height:18.0px;color:#fff;font-weight:400;right:333.4px;text-align:right;">其他</div>
<div class="a cj" style="top:541.3px;font-size:13.00px;line-height:18.0px;height:18.0px;color:#fff;font-weight:400;right:53.0px;text-align:right;">2.15%</div>
<div class="a cj" style="top:790.1px;font-size:12.20px;line-height:18.0px;height:18.0px;color:#fff;font-weight:400;left:298.0px;">非常满意</div>
<div class="a cj" style="top:790.5px;font-size:11.90px;line-height:18.0px;height:18.0px;color:#fff;font-weight:400;left:352.2px;">56.35%</div>
<div class="a cj" style="top:812.3px;font-size:12.20px;line-height:18.0px;height:18.0px;color:#fff;font-weight:400;left:298.0px;">满意</div>
<div class="a cj" style="top:812.7px;font-size:11.90px;line-height:18.0px;height:18.0px;color:#fff;font-weight:400;left:352.2px;">38.97%</div>
<div class="a cj" style="top:834.7px;font-size:12.20px;line-height:18.0px;height:18.0px;color:#fff;font-weight:400;left:298.0px;">一般</div>
<div class="a cj" style="top:835.1px;font-size:11.90px;line-height:18.0px;height:18.0px;color:#fff;font-weight:400;left:352.2px;">4.68%</div>
<div class="a cj" style="top:667.5px;font-size:12.05px;line-height:18.0px;height:18.0px;color:#fff;font-weight:400;right:328.7px;text-align:right;word-spacing:0.6px;">寻求新客户</div>
<div class="a cj" style="top:667.9px;font-size:12.40px;line-height:18.0px;height:18.0px;color:#fff;font-weight:400;right:84.5px;text-align:right;">72.91%</div>
<div class="a cj" style="top:696.0px;font-size:12.05px;line-height:18.0px;height:18.0px;color:#fff;font-weight:400;right:328.7px;text-align:right;word-spacing:0.6px;">展示新产品</div>
<div class="a cj" style="top:696.4px;font-size:12.40px;line-height:18.0px;height:18.0px;color:#fff;font-weight:400;right:84.5px;text-align:right;">68.52%</div>
<div class="a cj" style="top:724.5px;font-size:12.05px;line-height:18.0px;height:18.0px;color:#fff;font-weight:400;right:328.7px;text-align:right;word-spacing:0.6px;">寻找分销 / 代理商</div>
<div class="a cj" style="top:724.9px;font-size:12.40px;line-height:18.0px;height:18.0px;color:#fff;font-weight:400;right:84.5px;text-align:right;">67.55%</div>
<div class="a cj" style="top:752.5px;font-size:12.05px;line-height:18.0px;height:18.0px;color:#fff;font-weight:400;right:328.7px;text-align:right;word-spacing:0.6px;">了解市场需求趋势</div>
<div class="a cj" style="top:752.9px;font-size:12.40px;line-height:18.0px;height:18.0px;color:#fff;font-weight:400;right:84.5px;text-align:right;">63.56%</div>
<div class="a cj" style="top:781.0px;font-size:12.05px;line-height:18.0px;height:18.0px;color:#fff;font-weight:400;right:328.7px;text-align:right;word-spacing:0.6px;">与现有客户保持联系</div>
<div class="a cj" style="top:781.4px;font-size:12.40px;line-height:18.0px;height:18.0px;color:#fff;font-weight:400;right:84.5px;text-align:right;">60.73%</div>
<div class="a cj" style="top:809.5px;font-size:12.05px;line-height:18.0px;height:18.0px;color:#fff;font-weight:400;right:328.7px;text-align:right;word-spacing:0.6px;">维持公司市场形象</div>
<div class="a cj" style="top:809.9px;font-size:12.40px;line-height:18.0px;height:18.0px;color:#fff;font-weight:400;right:84.5px;text-align:right;">58.75%</div>
<div class="a cj" style="top:837.5px;font-size:12.05px;line-height:18.0px;height:18.0px;color:#fff;font-weight:400;right:328.7px;text-align:right;word-spacing:0.6px;">评估市场潜力</div>
<div class="a cj" style="top:837.9px;font-size:12.40px;line-height:18.0px;height:18.0px;color:#fff;font-weight:400;right:84.5px;text-align:right;">55.58%</div>
<div class="a cj" style="top:942.0px;font-size:16.20px;line-height:22.0px;height:22.0px;color:#fff;font-weight:700;left:314.5px;">36%</div>
<div class="a cj" style="top:942.0px;font-size:16.65px;line-height:22.0px;height:22.0px;color:#fff;font-weight:700;left:354.6px;">消毒剂/消毒液</div>
<div class="a cj" style="top:980.9px;font-size:16.20px;line-height:22.0px;height:22.0px;color:#fff;font-weight:700;left:314.5px;">28%</div>
<div class="a cj" style="top:980.9px;font-size:16.65px;line-height:22.0px;height:22.0px;color:#fff;font-weight:700;left:354.6px;">消毒设备/感控设备</div>
<div class="a cj" style="top:1022.8px;font-size:16.20px;line-height:22.0px;height:22.0px;color:#fff;font-weight:700;left:317.8px;">11%</div>
<div class="a cj" style="top:1022.8px;font-size:16.65px;line-height:22.0px;height:22.0px;color:#fff;font-weight:700;left:358.5px;">紫外线/空气消毒</div>
<div class="a cj" style="top:1062.7px;font-size:16.20px;line-height:22.0px;height:22.0px;color:#fff;font-weight:700;left:318.9px;">10%</div>
<div class="a cj" style="top:1062.7px;font-size:16.65px;line-height:22.0px;height:22.0px;color:#fff;font-weight:700;left:355.9px;">消毒用品/家用消毒</div>
<div class="a cj" style="top:1103.1px;font-size:16.20px;line-height:22.0px;height:22.0px;color:#fff;font-weight:700;left:322.2px;">7%</div>
<div class="a cj" style="top:1103.1px;font-size:16.65px;line-height:22.0px;height:22.0px;color:#fff;font-weight:700;left:352.0px;">环境消杀/医疗消杀</div>
<div class="a cj" style="top:1142.5px;font-size:16.20px;line-height:22.0px;height:22.0px;color:#fff;font-weight:700;left:321.5px;">5%</div>
<div class="a cj" style="top:1142.5px;font-size:16.65px;line-height:22.0px;height:22.0px;color:#fff;font-weight:700;left:351.5px;">消毒制造机械</div>
<div class="a cj" style="top:1179.3px;font-size:16.20px;line-height:22.0px;height:22.0px;color:#fff;font-weight:700;left:321.5px;">3%</div>
<div class="a cj" style="top:1179.3px;font-size:16.65px;line-height:22.0px;height:22.0px;color:#fff;font-weight:700;left:351.5px;">其他消毒产品</div>
<div class="a " style="top:1181.0px;font-size:10.50px;line-height:12.0px;height:12.0px;color:#fff;font-weight:700;right:314.1px;text-align:right;transform:scaleX(0.9);transform-origin:100% 50%;">0%</div>
<div class="a " style="top:1145.1px;font-size:10.50px;line-height:12.0px;height:12.0px;color:#fff;font-weight:700;right:314.1px;text-align:right;transform:scaleX(0.9);transform-origin:100% 50%;">10%</div>
<div class="a " style="top:1109.1px;font-size:10.50px;line-height:12.0px;height:12.0px;color:#fff;font-weight:700;right:314.1px;text-align:right;transform:scaleX(0.9);transform-origin:100% 50%;">20%</div>
<div class="a " style="top:1073.1px;font-size:10.50px;line-height:12.0px;height:12.0px;color:#fff;font-weight:700;right:314.1px;text-align:right;transform:scaleX(0.9);transform-origin:100% 50%;">30%</div>
<div class="a " style="top:1037.2px;font-size:10.50px;line-height:12.0px;height:12.0px;color:#fff;font-weight:700;right:314.1px;text-align:right;transform:scaleX(0.9);transform-origin:100% 50%;">40%</div>
<div class="a " style="top:1001.2px;font-size:10.50px;line-height:12.0px;height:12.0px;color:#fff;font-weight:700;right:314.1px;text-align:right;transform:scaleX(0.9);transform-origin:100% 50%;">50%</div>
<div class="a " style="top:965.2px;font-size:10.50px;line-height:12.0px;height:12.0px;color:#fff;font-weight:700;right:314.1px;text-align:right;transform:scaleX(0.9);transform-origin:100% 50%;">60%</div>
<div class="a " style="top:929.3px;font-size:10.50px;line-height:12.0px;height:12.0px;color:#fff;font-weight:700;right:314.1px;text-align:right;transform:scaleX(0.9);transform-origin:100% 50%;">70%</div>
<div class="a " style="top:893.3px;font-size:10.50px;line-height:12.0px;height:12.0px;color:#fff;font-weight:700;right:314.1px;text-align:right;transform:scaleX(0.9);transform-origin:100% 50%;">80%</div>
<div class="a " style="top:913.2px;font-size:18.60px;line-height:18.0px;height:18.0px;color:#10a860;font-weight:700;left:584.8px;width:40.0px;text-align:center;transform:scaleX(0.94);">65</div>
<div class="a " style="top:931.8px;font-size:8.60px;line-height:9.0px;height:9.0px;color:#fff;font-weight:700;left:595.0px;width:20.0px;text-align:center;transform:scaleX(0.72);">%</div>
<div class="a cj" style="top:915.2px;font-size:15.00px;line-height:20.0px;height:20.0px;color:#fff;font-weight:400;left:629.7px;">决策者</div>
<div class="a " style="top:1035.4px;font-size:18.60px;line-height:18.0px;height:18.0px;color:#2aa3e0;font-weight:700;left:643.7px;width:40.0px;text-align:center;transform:scaleX(0.94);">32</div>
<div class="a " style="top:1054.0px;font-size:8.60px;line-height:9.0px;height:9.0px;color:#fff;font-weight:700;left:653.9px;width:20.0px;text-align:center;transform:scaleX(0.72);">%</div>
<div class="a cj" style="top:1037.4px;font-size:15.00px;line-height:20.0px;height:20.0px;color:#fff;font-weight:400;left:688.2px;">建议者 / 影响者</div>
<div class="a " style="top:1141.8px;font-size:18.60px;line-height:18.0px;height:18.0px;color:#f39800;font-weight:700;left:711.4px;width:40.0px;text-align:center;transform:scaleX(0.94);">3</div>
<div class="a " style="top:1160.4px;font-size:8.60px;line-height:9.0px;height:9.0px;color:#fff;font-weight:700;left:721.6px;width:20.0px;text-align:center;transform:scaleX(0.72);">%</div>
<div class="a cj" style="top:1143.8px;font-size:15.00px;line-height:20.0px;height:20.0px;color:#fff;font-weight:400;left:755.7px;">其他</div>
</div>
</body></html>
